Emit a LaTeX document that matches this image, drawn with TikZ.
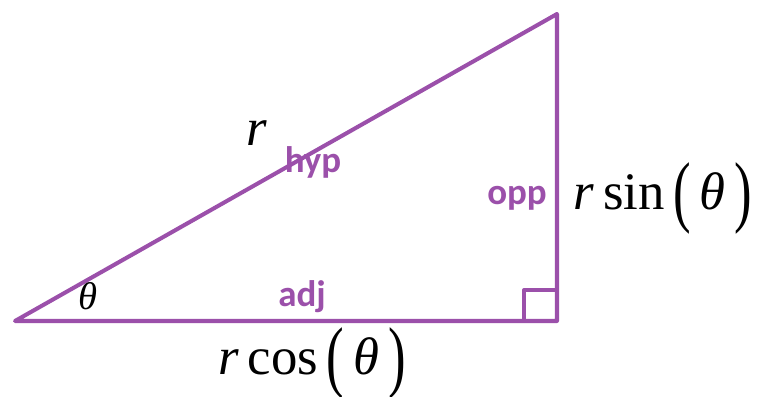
\documentclass[tikz,border=0pt]{standalone}
\usepackage{fontspec}
\setmainfont{Liberation Serif}
\newfontfamily\labelfont{Carlito}
\usepackage{graphicx}
\definecolor{trigpurple}{RGB}{155,80,170}
\tikzset{
  leg/.style={trigpurple, line width=1.15pt, line join=round},
  sidelabel/.style={text=trigpurple, font=\labelfont\bfseries\fontsize{10.5}{12}\selectfont, inner sep=0pt},
  mathlabel/.style={font=\fontsize{15}{17}\selectfont, inner sep=0pt}
}
\newcommand{\tallparen}[1]{\raisebox{-0.14em}{\scalebox{1}[1.5]{#1}}}

\begin{document}
\begin{tikzpicture}[x=0.01cm,y=-0.01cm]
  \useasboundingbox (0,0) rectangle (759,397);
  % corners of the triangle
  \coordinate (A) at (15,321);
  \coordinate (B) at (557,321);
  \coordinate (C) at (557,14);
  \coordinate (S) at (524,290);
  \draw[leg] (A) -- (B) -- (C) -- cycle;
  \draw[leg] (S |- B) -- (S) -- (S -| B);
  % side names
  \node[sidelabel, anchor=base] (hyp) at (313,173) {hyp};
  \node[sidelabel, anchor=base] (opp) at (517,205) {opp};
  \node[sidelabel, anchor=base] (adj) at (302,307) {adj};
  % lengths
  \node[mathlabel] (rlen) at (257,133) {\textit{r}};
  \node[font=\fontsize{11}{13}\selectfont, inner sep=0pt] (theta) at (88,296) {\textit{θ}};
  \node[mathlabel, anchor=base] (rsin) at (663,210)
    {\textit{r}\,sin\,\tallparen{(}\,\textit{θ}\,\tallparen{)}};
  \node[mathlabel, anchor=base] (rcos) at (312,375)
    {\textit{r}\,cos\,\tallparen{(}\,\textit{θ}\,\tallparen{)}};
\end{tikzpicture}
\end{document}
